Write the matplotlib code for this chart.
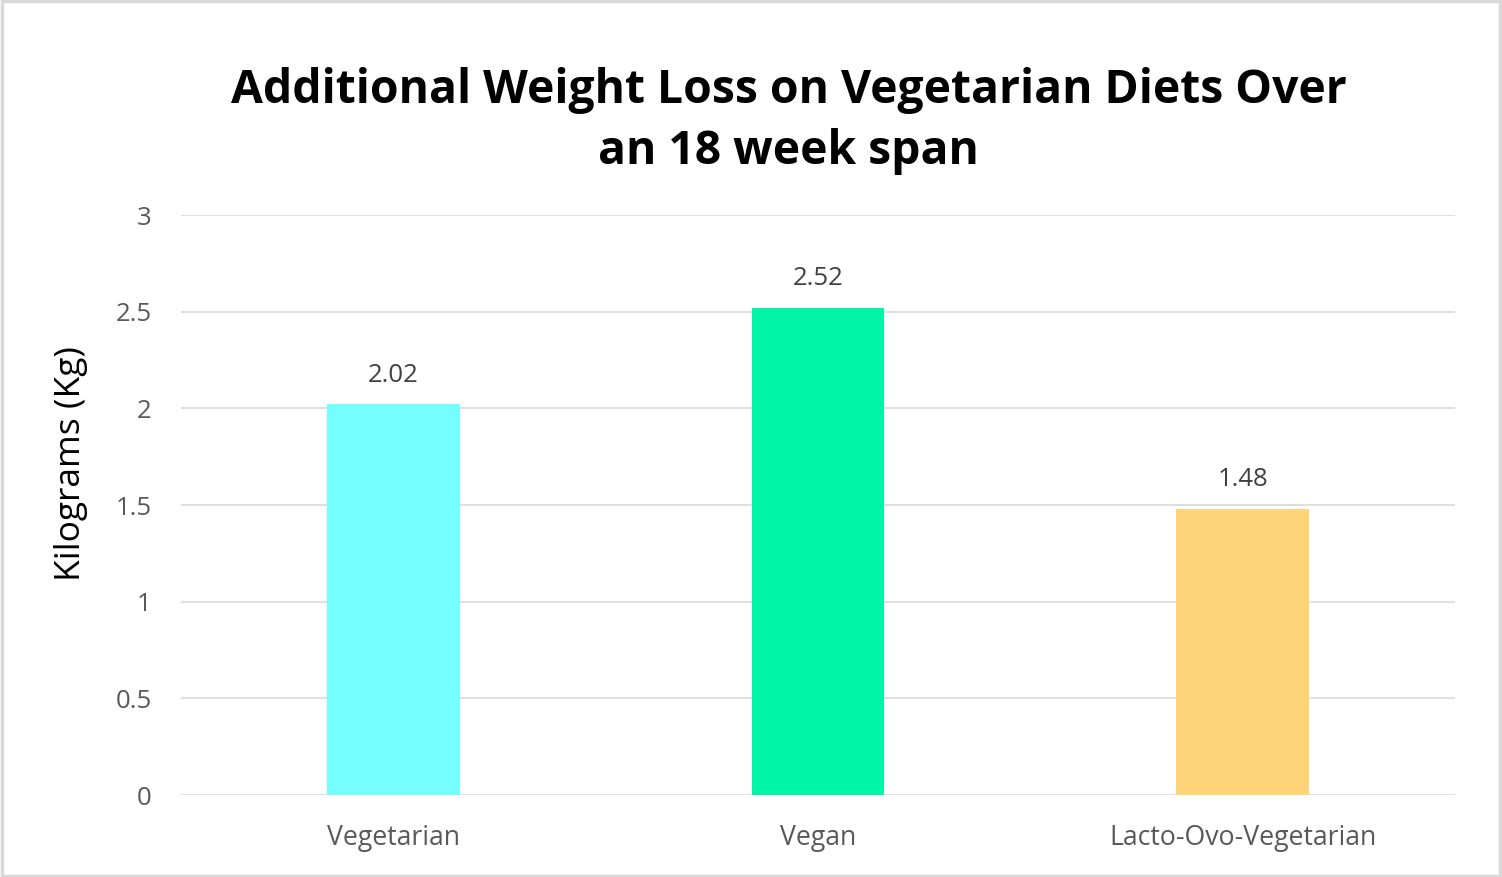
import matplotlib.pyplot as plt
from matplotlib.patches import Rectangle

# Data
diets = ['Vegetarian', 'Vegan', 'Lacto-Ovo-Vegetarian']
weight_loss = [2.02, 2.52, 1.48]
bar_colors = ['#75FEFE', '#00F5A6', '#FFD479']
yticks = [0, 0.5, 1, 1.5, 2, 2.5, 3]

plt.rcParams['font.family'] = ['Open Sans', 'DejaVu Sans']

fig = plt.figure(figsize=(15.02, 8.77), dpi=100)
ax = fig.add_axes([0.1205, 0.0935, 0.8482, 0.6613])

x = range(len(diets))
bars = ax.bar(x, weight_loss, width=0.313, color=bar_colors, zorder=3)

for xi, v in zip(x, weight_loss):
    ax.annotate(f'{v:.2f}', (xi, v), xytext=(0, 12), textcoords='offset points',
                ha='center', va='bottom', fontsize=18.5, color='#404040')

ax.set_xlim(-0.5, len(diets) - 0.5)
ax.set_ylim(0, 3)
ax.set_yticks(yticks)
ax.set_yticklabels([f'{t:g}' for t in yticks])
ax.set_xticks(list(x))
ax.set_xticklabels(diets, fontsize=19.2)
ax.tick_params(axis='both', length=0, labelcolor='#595959')
ax.tick_params(axis='y', labelsize=18.5, pad=21)
ax.tick_params(axis='x', pad=21)
ax.grid(axis='y', color='#d9d9d9', linewidth=1.2, zorder=0)
for s in ax.spines.values():
    s.set_visible(False)

ax.set_ylabel('Kilograms (Kg)', fontsize=25.5, color='black')
ax.yaxis.set_label_coords(-0.073, 0.571)

fig.text(0.525, 0.862, 'Additional Weight Loss on Vegetarian Diets Over\nan 18 week span',
         ha='center', va='center', fontsize=33.3, fontweight='bold', linespacing=1.4)

# outer border
fig.patches.append(Rectangle((0.001, 0.001), 0.998, 0.998, transform=fig.transFigure,
                             fill=False, edgecolor='#d9d9d9', linewidth=2.5))

plt.savefig('out.png', dpi=100)
plt.close()
